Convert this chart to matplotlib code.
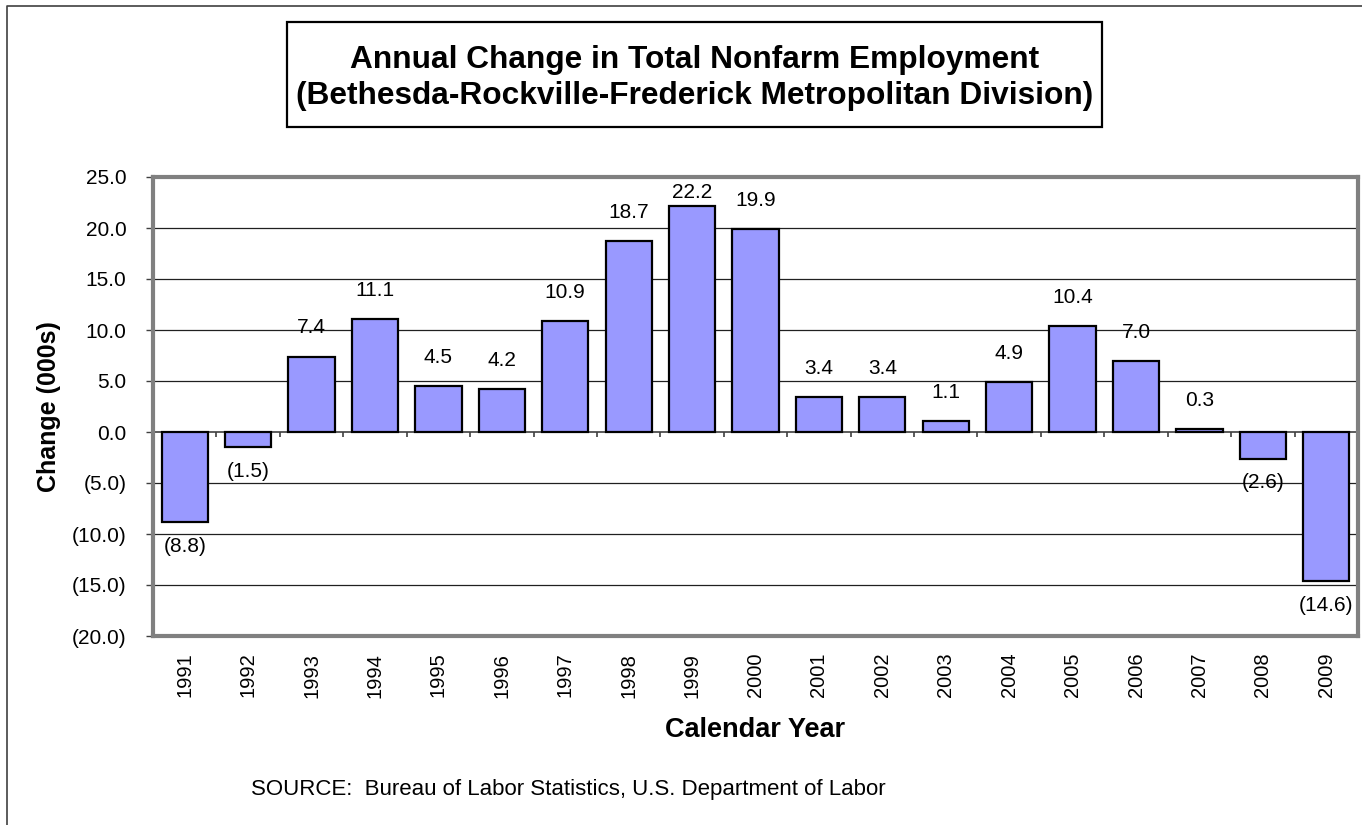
import numpy as np
import matplotlib.pyplot as plt
from matplotlib.patches import Rectangle
from matplotlib.lines import Line2D

years = ["1991", "1992", "1993", "1994", "1995", "1996", "1997", "1998", "1999", "2000",
         "2001", "2002", "2003", "2004", "2005", "2006", "2007", "2008", "2009"]
change = [-8.8, -1.5, 7.4, 11.1, 4.5, 4.2, 10.9, 18.7, 22.2, 19.9,
          3.4, 3.4, 1.1, 4.9, 10.4, 7.0, 0.3, -2.6, -14.6]
yticks = [25, 20, 15, 10, 5, 0, -5, -10, -15, -20]

plt.rcParams['font.family'] = ['Liberation Sans', 'DejaVu Sans']

def fmt(v):
    return f"({abs(v):.1f})" if v < 0 else f"{v:.1f}"

fig = plt.figure(figsize=(13.62, 8.25), dpi=100)
ax = fig.add_axes([153 / 1362, 1 - 636 / 825, (1358 - 153) / 1362, (636 - 177) / 825])

x = np.arange(len(years))
ax.bar(x, change, width=0.73, color="#9999FF", edgecolor="black", linewidth=1.6, zorder=3)

# data labels (kept inside the plot frame)
for xi, v in zip(x, change):
    if v >= 0:
        ax.text(xi, min(v + 2.8, 23.5), fmt(v), ha="center", va="center", fontsize=15)
    else:
        ax.text(xi, v - 2.4, fmt(v), ha="center", va="center", fontsize=15)

ax.set_xlim(-0.5, len(years) - 0.5)
ax.set_ylim(-20, 25)
ax.set_yticks(yticks)
ax.set_yticklabels([fmt(t) for t in yticks], fontsize=15)
ax.tick_params(axis="y", length=5, width=1, color="#404040", pad=14)
ax.set_xticks(x)
ax.set_xticklabels(years, rotation=90, fontsize=14.5)
ax.tick_params(axis="x", length=0, pad=12)

for t in yticks[1:-1]:
    if t != 0:
        ax.axhline(t, color="#202020", linewidth=0.9, zorder=1)

# category axis on the zero line
ax.axhline(0, color="#404040", linewidth=1.2, zorder=2)
ax.vlines(np.arange(len(years) + 1) - 0.5, -0.5, 0, color="#404040", linewidth=1.2, zorder=2)

for s in ax.spines.values():
    s.set_color("#808080")
    s.set_linewidth(3)

ax.set_ylabel("Change (000s)", fontsize=18, fontweight="bold", labelpad=8)
ax.set_xlabel("Calendar Year", fontsize=19.5, fontweight="bold", labelpad=14)

# title box
fig.patches.append(Rectangle((287 / 1362, 1 - 127 / 825), (1102 - 287) / 1362, (127 - 22) / 825,
                             transform=fig.transFigure, fill=False, edgecolor="black", linewidth=1.6))
fig.text(694.5 / 1362, 1 - 78 / 825,
         "Annual Change in Total Nonfarm Employment\n(Bethesda-Rockville-Frederick Metropolitan Division)",
         ha="center", va="center", fontsize=22.8, fontweight="bold", linespacing=1.28)

fig.text(251 / 1362, 1 - 789 / 825, "SOURCE:  Bureau of Labor Statistics, U.S. Department of Labor",
         ha="left", va="center", fontsize=16)

# outer chart border (left and top visible)
fig.lines.append(Line2D([7 / 1362, 7 / 1362, 1.0], [0.0, 1 - 6 / 825, 1 - 6 / 825],
                        transform=fig.transFigure, color="#404040", linewidth=1.2))

fig.savefig("out.png", dpi=100)
